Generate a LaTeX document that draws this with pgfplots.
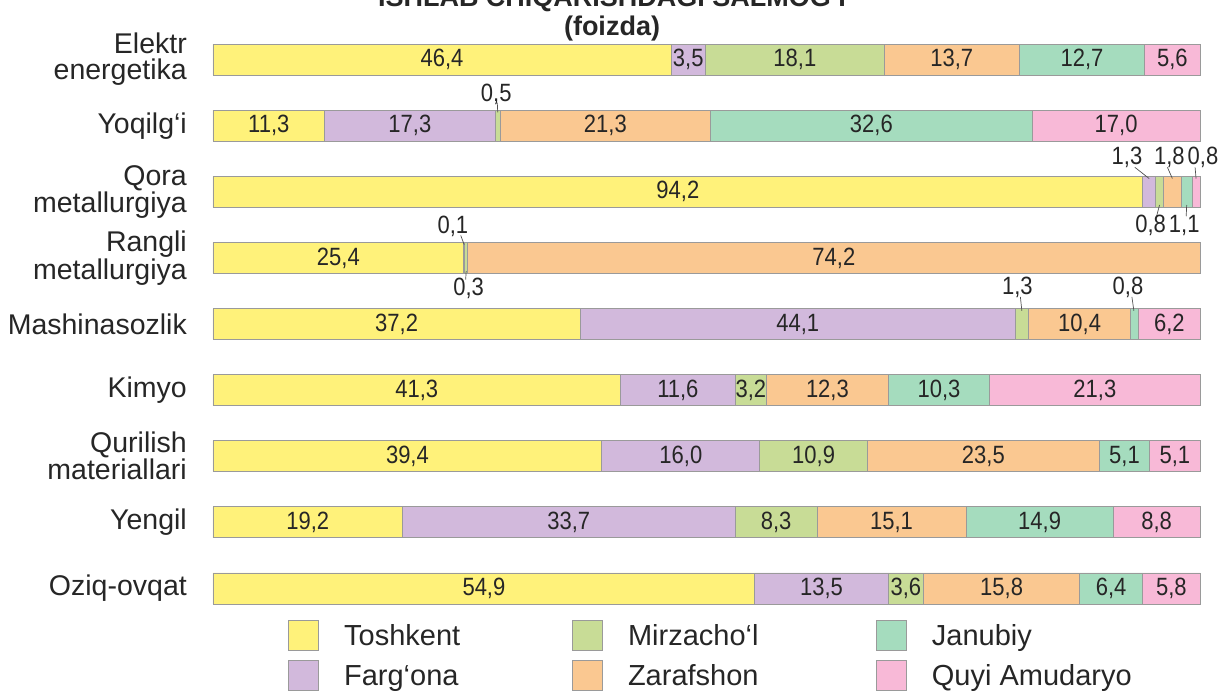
\documentclass[border=0pt]{standalone}
\usepackage{fontspec}
\setmainfont{Liberation Sans}
\newfontfamily\narrowfont[FakeStretch=0.88]{Liberation Sans}
\usepackage{pgfplots}
\pgfplotsset{compat=1.18}
\usepackage{pgfplotstable}

\definecolor{cT}{HTML}{FFF27A}
\definecolor{cF}{HTML}{D2B9DC}
\definecolor{cM}{HTML}{C8DC96}
\definecolor{cZ}{HTML}{FAC891}
\definecolor{cJ}{HTML}{A5DCBE}
\definecolor{cQ}{HTML}{F8B9D7}
\definecolor{edge}{HTML}{9A9A9A}
\definecolor{txt}{HTML}{262626}

\pgfplotstableread{
y v lab
0 46.4 {46,4}
1 11.3 {11,3}
2 94.2 {94,2}
3 25.4 {25,4}
4 37.2 {37,2}
5 41.3 {41,3}
6 39.4 {39,4}
7 19.2 {19,2}
8 54.9 {54,9}
}\tT
\pgfplotstableread{
y v lab
0 3.5 {3,5}
1 17.3 {17,3}
2 1.3 {}
3 0.1 {}
4 44.1 {44,1}
5 11.6 {11,6}
6 16.0 {16,0}
7 33.7 {33,7}
8 13.5 {13,5}
}\tF
\pgfplotstableread{
y v lab
0 18.1 {18,1}
1 0.5 {}
2 0.8 {}
3 0.3 {}
4 1.3 {}
5 3.2 {3,2}
6 10.9 {10,9}
7 8.3 {8,3}
8 3.6 {3,6}
}\tM
\pgfplotstableread{
y v lab
0 13.7 {13,7}
1 21.3 {21,3}
2 1.8 {}
3 74.2 {74,2}
4 10.4 {10,4}
5 12.3 {12,3}
6 23.5 {23,5}
7 15.1 {15,1}
8 15.8 {15,8}
}\tZ
\pgfplotstableread{
y v lab
0 12.7 {12,7}
1 32.6 {32,6}
2 1.1 {}
3 0 {}
4 0.8 {}
5 10.3 {10,3}
6 5.1 {5,1}
7 14.9 {14,9}
8 6.4 {6,4}
}\tJ
\pgfplotstableread{
y v lab
0 5.6 {5,6}
1 17.0 {17,0}
2 0.8 {}
3 0 {}
4 6.2 {6,2}
5 21.3 {21,3}
6 5.1 {5,1}
7 8.8 {8,8}
8 5.8 {5,8}
}\tQ
% labels of thin segments, placed beside the bars
\pgfplotstableread{
x y lab
28.7 0.53 {0,5}
92.6 1.48 {1,3}
96.9 1.48 {1,8}
100.3 1.48 {0,8}
95.0 2.51 {0,8}
98.4 2.51 {1,1}
24.3 2.53 {0,1}
25.9 3.46 {0,3}
81.5 3.45 {1,3}
92.7 3.45 {0,8}
}\tOut

\begin{document}
\begin{tikzpicture}
\useasboundingbox (0,0) rectangle (1223pt,691pt);
\clip (0,0) rectangle (1223pt,691pt);
\node[anchor=base, font=\bfseries\fontsize{27}{27}\selectfont, text=txt] at (612pt,684pt) {ISHLAB CHIQARISHDAGI SALMOG‘I};
\node[anchor=base, font=\bfseries\fontsize{27}{27}\selectfont, text=txt] at (612pt,655pt) {(foizda)};
\begin{axis}[
  at={(213pt,69.5pt)}, anchor=south west,
  scale only axis, width=987pt, height=595pt,
  xmin=0, xmax=100, ymin=-0.5, ymax=8.5, y dir=reverse,
  xbar stacked, bar width=31pt,
  axis line style={draw=none}, major tick length=0pt,
  xtick=\empty, ytick={0,...,8},
  yticklabels={{Elektr\\energetika},{Yoqilg‘i},{Qora\\metallurgiya},{Rangli\\metallurgiya},{Mashinasozlik},{Kimyo},{Qurilish\\materiallari},{Yengil},{Oziq-ovqat}},
  yticklabel style={align=right, font=\fontsize{28.5}{26}\selectfont, text=txt, inner sep=0pt, xshift=-26pt},
  clip=false,
  nodes near coords, point meta=explicit symbolic,
  every node near coord/.append style={anchor=center, font=\narrowfont\fontsize{25}{25}\selectfont, text=txt},
  every axis plot/.append style={draw=edge, line width=0.9pt},
  legend image code/.code={\draw[#1, draw=edge, line width=0.9pt] (0pt,-15pt) rectangle (30pt,15pt);},
  legend columns=2, transpose legend,
  legend style={draw=none, fill=none, inner sep=0pt, column sep=0pt, row sep=9pt,
    at={(axis description cs:0.076,0)}, anchor=north west, yshift=1.5pt,
    font=\fontsize{29}{29}\selectfont, text=txt,
    nodes={inner sep=0pt, text height=25pt, text depth=6pt}},
]
\addplot[fill=cT] table[x=v, y=y, meta=lab]{\tT};
\addlegendentry{\hspace*{25pt}\makebox[228pt][l]{Toshkent}}
\addplot[fill=cF] table[x=v, y=y, meta=lab]{\tF};
\addlegendentry{\hspace*{25pt}\makebox[228pt][l]{Farg‘ona}}
\addplot[fill=cM] table[x=v, y=y, meta=lab]{\tM};
\addlegendentry{\hspace*{25pt}\makebox[248pt][l]{Mirzacho‘l}}
\addplot[fill=cZ] table[x=v, y=y, meta=lab]{\tZ};
\addlegendentry{\hspace*{25pt}\makebox[248pt][l]{Zarafshon}}
\addplot[fill=cJ] table[x=v, y=y, meta=lab]{\tJ};
\addlegendentry{\hspace*{25pt}\makebox[200pt][l]{Janubiy}}
\addplot[fill=cQ] table[x=v, y=y, meta=lab]{\tQ};
\addlegendentry{\hspace*{25pt}\makebox[200pt][l]{Quyi Amudaryo}}
\end{axis}
\begin{axis}[
  at={(213pt,69.5pt)}, anchor=south west,
  scale only axis, width=987pt, height=595pt,
  xmin=0, xmax=100, ymin=-0.5, ymax=8.5, y dir=reverse,
  hide axis, clip=false,
]
\addplot[txt!80, line width=0.7pt, unbounded coords=jump] coordinates {
 (28.8,0.65) (28.85,0.8) (nan,nan)
 (93.4,1.63) (94.85,1.8) (nan,nan)
 (96.7,1.63) (97.2,1.8) (nan,nan)
 (99.5,1.63) (99.6,1.8) (nan,nan)
 (95.6,2.37) (95.9,2.2) (nan,nan)
 (98.6,2.37) (98.65,2.2) (nan,nan)
 (25.1,2.66) (25.45,2.8) (nan,nan)
 (25.6,3.33) (25.65,3.2) (nan,nan)
 (81.8,3.59) (81.95,3.8) (nan,nan)
 (93.1,3.59) (93.3,3.8)
};
\addplot[only marks, mark=none, nodes near coords, point meta=explicit symbolic,
  every node near coord/.append style={anchor=center, font=\narrowfont\fontsize{25}{25}\selectfont, text=txt}]
  table[x=x, y=y, meta=lab]{\tOut};
\end{axis}
\end{tikzpicture}
\end{document}
